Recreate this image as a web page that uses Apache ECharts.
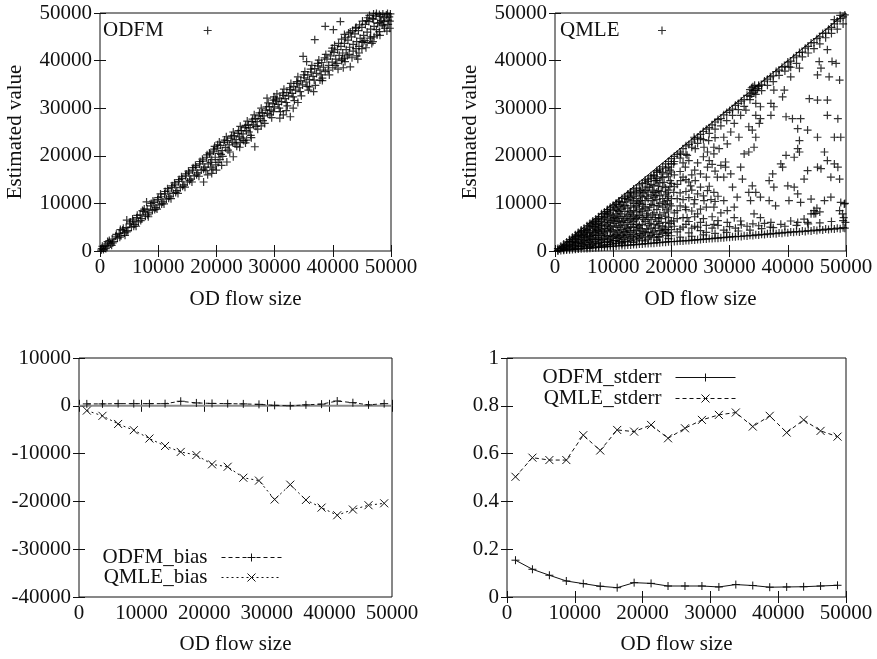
<!DOCTYPE html>
<html><head><meta charset="utf-8">
<script src="https://cdn.jsdelivr.net/npm/echarts@6/dist/echarts.min.js"></script>
<style>html,body{margin:0;padding:0;background:#fff}#c{width:877px;height:659px}</style>
</head><body><div id="c"></div><script>
// ---- Data ----
const odfmScatter = [[200,200],[300,500],[600,300],[700,900],[900,1200],[1200,800],[1500,1700],[1800,1500],[2100,2500],[2400,2000],[2700,3100],[3000,2700],[3300,3700],[3600,3200],[3900,4400],[4200,3800],[4500,4900],[4600,6500],[4800,4300],[5100,5700],[5400,5000],[5700,6300],[6000,5600],[6300,7000],[6600,6100],[6900,7600],[7200,6800],[7500,8300],[7800,7300],[8000,10300],[8100,8800],[8400,8000],[8700,9500],[9000,8500],[9300,10200],[9600,9100],[9900,10800],[10200,9700],[10500,11400],[10800,10300],[11100,12000],[11400,10900],[11700,12600],[12000,11500],[12300,13300],[12600,12100],[12900,13900],[13200,12700],[13500,14600],[13800,13300],[14100,15200],[14400,13900],[14700,15800],[15000,14500],[15300,16400],[15600,15100],[15900,17000],[16200,15800],[16500,17600],[16800,16400],[17100,18300],[17400,17000],[17700,18900],[17800,14500],[18000,17600],[18300,19700],[18600,18300],[18900,20400],[19200,16300],[19200,19200],[19500,21000],[19800,19700],[20000,17000],[20100,21600],[20400,20500],[20700,22200],[20900,18000],[21000,21100],[21300,22800],[21600,21700],[21800,18700],[21900,23200],[22200,22300],[22500,23700],[22900,19800],[22800,22800],[23100,24200],[23400,23400],[23700,24700],[24000,24000],[24300,25300],[24600,24600],[24900,25900],[25200,23300],[25200,25300],[25500,26500],[25800,25900],[26100,27200],[26400,26500],[26600,21900],[26700,27800],[27000,27200],[27300,28400],[27600,27800],[27900,29000],[28200,28400],[28500,29600],[28700,32100],[28800,28900],[29100,30300],[29400,29600],[29700,30900],[29800,31700],[30000,30300],[30300,31500],[30600,30800],[30900,27900],[30900,32100],[31200,31400],[31500,32700],[31800,32000],[32100,33300],[32400,32600],[32700,28200],[32700,33900],[33000,33100],[33200,30000],[33300,34600],[33600,33800],[33900,35200],[34200,34300],[34500,35800],[34800,34900],[34900,40900],[35100,36400],[35400,35500],[35500,39800],[35700,37000],[36000,36000],[36300,37600],[36600,36700],[36900,44400],[36900,38300],[37200,37300],[37500,38900],[37800,35900],[37800,38000],[38100,39600],[38400,38600],[38700,37700],[38700,47200],[39000,40300],[39300,39000],[39600,41000],[39900,39700],[40000,38500],[40100,46500],[40200,41700],[40500,40300],[40700,39400],[40800,42300],[41100,41100],[41300,48200],[41400,43000],[41500,40000],[41700,41600],[42000,43600],[42000,45500],[42300,42300],[42500,41000],[42600,44300],[42900,42800],[43000,38700],[43000,46000],[43200,45000],[43500,43400],[43500,42000],[43800,45600],[44000,47000],[44100,44000],[44100,41000],[44400,46300],[44500,43000],[44700,44700],[45000,47000],[45000,42500],[45300,45300],[45500,44200],[45600,47600],[45900,46000],[45900,43800],[46000,49000],[46200,48200],[46500,46600],[46500,45000],[46800,48800],[47000,49800],[47100,47200],[47100,45000],[47400,49400],[47500,46500],[47700,47800],[48000,49700],[48000,46100],[48300,48400],[48500,47500],[48600,49800],[48900,49000],[48900,46800],[49200,49600],[49500,47600],[49500,48500],[49700,49200],[49800,48300],
[400,1000],[1000,500],[1600,2200],[2200,1700],[2800,3500],[3400,2900],[4000,4800],[4600,4000],[5200,6100],[5800,5200],[6400,7500],[7000,6400],[7600,8800],[8200,7600],[8800,10000],[9400,8700],[10000,11200],
[10600,9900],[11200,12500],[11800,11100],[12400,13700],[13000,12300],[13600,15000],[14200,13600],[14800,16200],[15400,14800],[16000,17500],[16600,16000],[17200,18800],[17800,17200],[18400,20200],[19000,18600],[19600,21400],[19400,17200],[20600,19200],[20200,22300],
[20800,20300],[21400,23300],[22000,21200],[22600,24200],[23200,22500],[23800,25300],[24400,23700],[25000,26400],[25600,25000],[26200,27700],[26800,26200],[27400,29000],[28000,27400],[28600,30300],[29200,28600],[29800,29300],[30200,31900],[27700,26300],[24100,22800],
[30800,30000],[31400,33200],[32000,31200],[32600,34300],[33200,32400],[33800,35600],[34400,33500],[35000,37000],[35600,34600],[36200,38200],[36800,35900],[37400,39400],[38000,37000],[38600,40600],[39200,38000],[39800,42000],[32000,29500],[36000,34500],[38200,36300],
[40400,39000],[41000,43600],[41600,40300],[42200,44800],[42800,41300],[43400,46300],[44000,42500],[44600,47500],[45200,43800],[45800,48400],[46400,44700],[47000,48700],[47600,45400],[48200,49300],[48800,47300],[49400,49900],[49800,46800],[41800,38500],[44300,40300],[46700,43600],
[1300,2000],[2000,1200],[3500,4500],[4300,3300],[5600,6700],[6200,5200],[7300,8500],[8300,7200],[9100,10500],[9800,8800],
[10400,12000],[11000,9900],[11600,13100],[12200,11000],[12800,14300],[13400,12100],[14000,15600],[14600,13400],[15200,16800],[15800,14500],[16400,18000],[17000,15700],[17600,19300],[18200,16900],[18800,20600],[19100,17600],[19700,22000],[18500,16000],[20300,18600],[19900,18100],
[20500,22900],[21100,19900],[21700,24000],[22300,20800],[22900,25000],[23500,22000],[24100,26200],[24700,23200],[25300,27300],[25900,24300],[26500,28600],[27100,25600],[27700,30000],[28300,26800],[28900,31100],[29500,28000],[29900,32400],[25000,22700],[26000,23800],[24000,21800],
[30400,33000],[31000,29300],[31600,34000],[32200,30500],[32800,35200],[33400,31600],[34000,36600],[34600,32600],[35200,37700],[35800,33800],[36400,39000],[37000,34800],[37600,40100],[38200,35800],[38800,41300],[39400,37000],[39900,42600],[31500,28600],[34000,31200],[36700,33500],
[40300,43200],[40900,38200],[41500,44500],[42100,39800],[42700,45800],[43300,40600],[43900,46800],[44500,41600],[45100,48300],[45700,42700],[46300,49500],[46900,44000],[47500,49900],[48100,45300],[48700,48200],[49300,46200],[49900,49800],[42000,40500],[45000,44000],[48000,48000]];

const qmleScatter = [
[1000,1000],[2000,1900],[3000,2900],[4000,3900],[5000,4800],[6000,5800],[7000,6700],[8000,7800],[9000,8700],[10000,9600],[11000,10500],[12000,11400],[13000,12300],[14000,13200],[15000,14200],[16000,15100],[17000,16000],[18000,17200],[19000,18300],[20000,19400],[21000,20300],[22000,21500],[23000,22400],[24000,23500],[25000,24500],[26000,25600],[27000,26500],[28000,27600],[29000,28600],[30000,29500],[31000,30600],[32000,31500],[33000,32700],[34000,33700],[35000,34600],[36000,35700],[37000,36600],[38000,37700],[39000,38600],[40000,39700],[41000,40600],[42000,41700],[43000,42600],[44000,43700],[45000,44600],[46000,45700],[47000,46600],[48000,47700],[49000,48800],[49800,49600],
[20500,18800],[21500,19500],[22500,20300],[23500,21800],[24500,22600],[25500,23400],[26500,24700],[27500,25600],[28500,26300],[29500,27400],[30500,28500],[31500,29700],[32500,30400],[33500,31800],[34500,32900],[33800,34300],[34300,34800],[34800,34100],[33500,33900],[34000,34500],[35000,34800],[34200,33200],[33800,33000],[35500,33700],[36500,34800],[37500,35600],[38500,36900],[39500,37800],[40500,38600],[41500,39400],[42500,40800],[43500,41600],[44500,42500],[45500,43500],[46500,44800],[47500,45700],[48500,46600],[49500,47700],[49000,49500],[48000,48600],
[22500,22100],[25500,25100],[27500,27100],[29500,29100],[31500,31000],[36500,36100],[38500,38000],[41500,41000],[43500,43000],[45500,45000],[47500,47000],[48500,48300],[49500,49200],
[1500,1450],[2500,2400],[3500,3400],[4500,4400],[5500,5300],[6500,6300],[7500,7200],[8500,8200],[9500,9200],[10500,10100],[11500,11100],[12500,12000],[13500,13000],[14500,13900],[15500,14900],[16500,15800],[17500,16900],[18500,17700],[19500,18800],[20500,19900],[21500,20800],[23500,22900],[24500,23900],[26500,25900],[28500,27800],[30500,29800],[32500,31800],[33500,32500],[34500,33800],[35500,34900],[37500,36800],[39500,38800],[40500,39900],[42500,41800],[44500,43800],[46500,45800],
[1000,100],[2000,200],[3000,300],[4000,400],[5000,500],[6000,600],[7000,700],[8000,800],[9000,900],[10000,1000],[11000,1100],[12000,1150],[13000,1250],[14000,1350],[15000,1450],[16000,1550],[17000,1650],[18000,1750],[19000,1850],[20000,1950],[21000,2050],[22000,2100],[23000,2200],[24000,2300],[25000,2400],[26000,2500],[27000,2600],[28000,2700],[29000,2800],[30000,2900],[31000,3000],[32000,3050],[33000,3150],[34000,3250],[35000,3350],[36000,3450],[37000,3550],[38000,3650],[39000,3750],[40000,3850],[41000,3950],[42000,4000],[43000,4100],[44000,4200],[45000,4300],[46000,4400],[47000,4500],[48000,4600],[49000,4700],[49800,4800],
[500,50],[1500,150],[2500,250],[3500,350],[4500,450],[5500,550],[6500,650],[7500,750],[8500,850],[9500,950],[10500,1050],[11500,1150],[12500,1250],[13500,1350],[14500,1450],[15500,1550],[16500,1650],[17500,1750],[18500,1850],[19500,1950],[20500,2000],[21500,2100],[22500,2200],[23500,2300],[24500,2400],[25500,2500],[26500,2600],[27500,2700],[28500,2800],[29500,2900],[30500,3000],[31500,3100],[32500,3200],[33500,3300],[34500,3400],[35500,3500],[36500,3600],[37500,3700],[38500,3800],[39500,3900],[40500,4000],[41500,4100],[42500,4200],[43500,4300],[44500,4400],[45500,4500],[46500,4600],[47500,4700],[48500,4800],[49500,4900],
[1500,300],[3500,500],[5500,800],[7500,1000],[9500,1300],[11500,1500],[13500,1800],[15500,2100],[17500,2300],[19500,2600],[21500,2900],[23500,3100],[25500,3400],[27500,3700],[29500,3900],[31500,4200],[33500,4400],[35500,4700],[37500,4900],[39500,5200],[41500,5400],[43500,5700],[45500,5900],[47500,6200],[49500,6400],
[500,100],[500,500],[800,400],[1200,600],[1500,1000],[2000,400],[2000,800],[2500,900],[2500,1500],[3000,1300],[3000,2000],[3500,1200],[3500,2600],[4000,1000],[4000,2500],[4500,3300],[4500,1600],[5000,2200],[5000,3500],[5500,3800],[5500,4500],[6000,1800],[6000,3000],[6000,4200],[6500,5200],[6500,2500],[7000,4000],[7000,1500],[7000,5600],[7500,5800],[7500,3200],[8000,2300],[8000,6200],[8000,4600],[8500,3800],[8500,7000],[8500,1800],[9000,2000],[9000,5500],[9000,7800],[9500,7600],[9500,4200],[10000,3000],[10000,6500],[10000,8500],[10500,2200],[10500,5000],[10500,9800],[11000,9300],[11000,7200],[11000,3800],[11500,6000],[11500,10200],[12000,2900],[12000,8300],[12500,4700],[12500,10800],[13000,6800],[13000,9500],[13500,3500],[13500,11500],[14000,5600],[14000,8200],[14500,12300],[14500,10000],[15000,4200],[15000,7000],[15500,12700],[15500,9000],[16000,5300],[16000,11000],[16500,14000],[16500,3300],[17000,8000],[17000,12300],[17500,6200],[17500,15200],[18000,10000],[18000,4300],[18500,13500],[18500,16500],[19000,7300],[19000,11800],[19500,5000],[19500,17600],[20000,9500],[20000,14200],
[1500,600],[2000,1200],[2500,2000],[2500,500],[3000,700],[3000,2500],[3500,1800],[3500,3000],[4000,1700],[4000,3300],[4000,600],[4500,900],[4500,2400],[4500,4100],[5000,1300],[5000,2800],[5000,4300],[5500,1400],[5500,2700],[5500,3200],[6000,900],[6000,2400],[6000,3600],[6000,5200],[6500,1500],[6500,3400],[6500,4400],[6500,6000],[7000,1000],[7000,2500],[7000,3300],[7000,4800],[7000,6200],[7500,1600],[7500,2400],[7500,4300],[7500,5000],[7500,6800],[8000,1300],[8000,3400],[8000,5400],[8000,7200],[8500,1200],[8500,2700],[8500,4700],[8500,5900],[8500,7800],[9000,1400],[9000,3000],[9000,4300],[9000,6500],[9000,8300],[9500,1800],[9500,3200],[9500,5200],[9500,6300],[9500,8800],[10000,1500],[10000,2200],[10000,4000],[10000,5300],[10000,7400],[10500,1600],[10500,3500],[10500,6300],[10500,7800],[10500,8800],[11000,2000],[11000,2800],[11000,5000],[11000,6200],[11000,8300],[11000,10400],[11500,1800],[11500,3300],[11500,4500],[11500,7300],[11500,8800],[12000,2000],[12000,4000],[12000,5500],[12000,6800],[12000,9600],[12000,11000],[12500,1900],[12500,3200],[12500,6000],[12500,7600],[12500,9000],[13000,2200],[13000,3900],[13000,5000],[13000,8000],[13000,11200],[13000,12400],[13500,2500],[13500,5000],[13500,6200],[13500,7200],[13500,10000],[14000,2100],[14000,3200],[14000,4400],[14000,6800],[14000,9500],[14000,11000],[14000,12600],[14500,2600],[14500,3700],[14500,5400],[14500,7500],[14500,8800],[15000,2300],[15000,5600],[15000,8400],[15000,9800],[15000,11300],[15000,13000],[15500,2900],[15500,4000],[15500,6200],[15500,10600],[15500,14300],[16000,2500],[16000,3900],[16000,7000],[16000,8600],[16000,12400],[16000,14600],[16500,4800],[16500,6600],[16500,9800],[16500,11800],[16500,15300],[17000,2800],[17000,4200],[17000,5600],[17000,9600],[17000,13800],[17000,15800],[17500,3500],[17500,8700],[17500,10800],[17500,12400],[17500,16500],[18000,2900],[18000,5800],[18000,7600],[18000,11600],[18000,14300],[18000,16800],[18500,3800],[18500,5200],[18500,9200],[18500,11000],[18500,15400],[19000,3300],[19000,4500],[19000,6000],[19000,9800],[19000,13300],[19000,17400],[19500,3900],[19500,7000],[19500,8400],[19500,11400],[19500,12800],[19500,15600],[20000,3200],[20000,4500],[20000,6300],[20000,11000],[20000,16600],[20000,18300],
[1250,700],[1750,1100],[2250,1300],[2750,1800],[3250,1000],[3250,2300],[3750,1500],[3750,2900],[4250,2000],[4250,3600],[4750,1100],[4750,3000],[5250,1800],[5250,3900],[5750,2200],[5750,4800],[6250,1200],[6250,3200],[6250,5500],[6750,2000],[6750,3900],[6750,5100],[7250,2800],[7250,4500],[7250,6500],[7750,1800],[7750,3700],[7750,5500],[8250,2500],[8250,4100],[8250,6700],[8750,3300],[8750,5200],[8750,7300],[9250,2400],[9250,4800],[9250,6000],[9250,8000],[9750,2700],[9750,4500],[9750,6900],[10250,3300],[10250,5800],[10250,7000],[10250,9200],[10750,2600],[10750,4300],[10750,6800],[10750,8500],[11250,3100],[11250,5400],[11250,7800],[11250,9700],[11750,2400],[11750,4000],[11750,6400],[11750,9300],[12250,3500],[12250,5000],[12250,7200],[12250,10300],[12750,2700],[12750,4300],[12750,6500],[12750,8400],[12750,11600],[13250,3000],[13250,5600],[13250,7600],[13250,10600],[13750,4200],[13750,6700],[13750,9200],[13750,12000],[14250,2900],[14250,5000],[14250,7100],[14250,10300],[14750,3300],[14750,4700],[14750,8200],[14750,11600],[15250,3600],[15250,6600],[15250,9400],[15250,12200],[15750,4600],[15750,7400],[15750,11500],[16250,3100],[16250,5800],[16250,9200],[16250,13400],[16750,3800],[16750,7600],[16750,10600],[16750,12800],[17250,4800],[17250,7000],[17250,11700],[17250,14800],[17750,3000],[17750,5300],[17750,9500],[17750,13600],[18250,4200],[18250,6800],[18250,12500],[18250,15600],[18750,4600],[18750,8000],[18750,10300],[18750,14400],[19250,3700],[19250,8800],[19250,12200],[19250,16200],[19750,5800],[19750,9900],[19750,13600],[19750,17000],
[20500,5200],[20500,8000],[20500,13500],[20500,16000],[21000,6800],[21000,14000],[21500,4600],[21500,9500],[21500,12200],[22000,7000],[22000,10800],[22000,18500],[22500,5600],[22500,8700],[22500,15000],[23000,6200],[23000,11200],[23000,14500],[23500,4800],[23500,8400],[23500,12800],[24000,7200],[24000,10800],[24000,17000],[24500,5000],[24500,12000],[25000,8800],[25000,16200],[25500,6800],[25500,11600],[26000,5400],[26000,9200],[26500,13600],[26500,19000],[27000,7200],[27500,10400],[27500,16800],[28000,6400],
[21000,4000],[22000,5000],[23000,3800],[24000,5200],[25000,4300],[26000,3900],[27000,4800],[28000,5400],[29000,4400],[30000,5100],[31000,4800],[32000,5500],[33000,5200],[34000,5700],[35000,5300],[36000,5800],[37000,5000],[21000,11000],[22500,12500],[23500,16000],[24500,18500],[26000,15500],[27000,18200],[28000,11500],[22000,15500],[21500,16700],[23000,19000],[25500,19800],[27500,23800],[26800,10800],[24500,7800],[28500,8000],
[48300,39400],[45400,39800],[45700,38400],[46800,42300],[48900,35900],[47100,36600],[40200,38700],[42000,38400],[45100,37000],[40500,36600],[37600,33800],[39100,32400],[39400,33800],[37100,28500],[39700,28200],[40800,27800],[42200,27800],[43700,32000],[45100,31700],[46800,31700],[48600,27800],[46800,28500],[41700,25700],[43400,25400],[45100,23900],[48000,23900],[49100,23900],[42000,23200],[41700,21500],[42000,20800],[46300,20800],[46800,19000],[48000,18300],[48600,17600],[47400,15500],[48900,15100],[45700,17300],[45100,17600],[43400,16900],[42800,15100],[41100,19700],[39700,20100],[38800,18300],[39100,17600],[37400,16200],[36800,14800],[37600,13400],[40000,13700],[41100,13400],[41700,12000],[40200,10600],[42200,10200],[44000,10900],[46300,10600],[47400,11300],[49100,10200],[49700,9900],[48900,8500],[49400,7800],[44500,7800],[44000,7800],[42800,6700],[37100,6000],[35300,7000],[34200,7800],[33600,10600],[35300,11300],[36800,10600],[37900,9500],[34500,12300],[33300,12300],[31300,11300],[30800,9200],[29600,8500],[29000,10600],[30500,13400],[32200,15100],[33900,13700],[30200,16200],[29300,17600],[28500,18000],[29000,15500],[27900,15500],[26200,17600],[29300,18700],[31900,17600],[32500,20400],[33300,20800],[34200,21800],[34500,23900],[33900,25400],[33300,26100],[35100,26800],[35300,27800],[34500,28500],[35300,30300],[34500,31000],[37100,31000],[37600,30300],[32800,29600],[31900,28500],[30800,26800],[30200,25000],[31600,23900],[29600,22500],[29000,23900],[28200,21500],[27300,21800],[26400,23200],[25000,23600],[25600,21800],[24100,21500],[26200,20800],[27300,20400],[23900,23900],[22700,20100],[21600,20400],[20400,18300],[22400,17600],[24100,14800],[23300,13700],[25000,13400],[26200,12700],[27300,12300],[25600,10600],[27300,9200],[23900,9900],[22400,9200],[21000,8500],[19300,10600],[17800,12700],[20400,12300],[21600,14800],[19800,14800],[17500,14800],[14700,12700],[15800,13400],[17000,11300],[14700,10600],[13500,8500],[15800,7800],[17800,7000],[20400,6300],[22700,7000],[25000,6000],[27300,5600],[29600,6000],[31900,6300],[30800,7000],[38800,5600],[40500,6300],[41700,6000],[43400,6000],[44500,8500],[45000,9000],[44800,7900],[45500,8200],[47600,39800],[49600,7000],[49900,6000],[49800,10000]];

const qmleDiagonal = [[0,0],[50000,50000]];
const zeroLine = [[0,0],[50000,0]];

const flowSize   = [1250,3750,6250,8750,11250,13750,16250,18750,21250,23750,26250,28750,31250,33750,36250,38750,41250,43750,46250,48750];
const odfmBias   = [400,400,450,450,450,450,950,600,500,450,400,300,100,0,200,350,1000,650,200,450];
const qmleBias   = [-1000,-2100,-3800,-5100,-6850,-8400,-9650,-10300,-12250,-12750,-15050,-15650,-19600,-16500,-19700,-21300,-22900,-21700,-20800,-20400];
const odfmStderr = [0.154,0.116,0.091,0.067,0.056,0.045,0.039,0.060,0.057,0.046,0.046,0.046,0.042,0.052,0.048,0.041,0.042,0.043,0.046,0.049];
const qmleStderr = [0.503,0.583,0.573,0.573,0.677,0.613,0.699,0.692,0.720,0.664,0.706,0.741,0.762,0.772,0.713,0.758,0.688,0.741,0.695,0.671];

const xRange = {min:0, max:50000, interval:10000};
const yRangeTop = {min:0, max:50000, interval:10000};
const yRangeBias = {min:-40000, max:10000, interval:10000};
const yRangeErr = {min:0, max:1, interval:0.2};

// ---- Style ----
const INK = '#111';
const FONT = {fontFamily:'Liberation Serif', fontSize:21, color:INK};
const PLUS = 'path://M0,5L10,5M5,0L5,10';
const CROSS = 'path://M0,0L10,10M0,10L10,0';
const tick = {inside:true, length:6, lineStyle:{color:INK, width:1}};
const plain = v => String(+(+v).toFixed(6));

function xPair(g, gap) {
  return [
    Object.assign({gridIndex:g, type:'value', position:'bottom', axisLine:{show:false}, axisTick:tick,
      axisLabel:Object.assign({margin:6, formatter:plain}, FONT), splitLine:{show:false},
      name:'OD flow size', nameLocation:'middle', nameGap:gap, nameTextStyle:Object.assign({}, FONT)}, xRange),
    Object.assign({gridIndex:g, type:'value', position:'top', axisLine:{show:false}, axisTick:tick,
      axisLabel:{show:false}, splitLine:{show:false}}, xRange)
  ];
}
function yPair(g, range, name) {
  const main = Object.assign({gridIndex:g, type:'value', position:'left', axisLine:{show:false}, axisTick:tick,
      axisLabel:Object.assign({margin:8, formatter:plain}, FONT), splitLine:{show:false}}, range);
  if (name) Object.assign(main, {name:name, nameLocation:'middle', nameGap:74, nameTextStyle:Object.assign({}, FONT)});
  return [main,
    Object.assign({gridIndex:g, type:'value', position:'right', axisLine:{show:false}, axisTick:tick,
      axisLabel:{show:false}, splitLine:{show:false}}, range)];
}
const frame = {show:true, borderColor:INK, borderWidth:1, backgroundColor:'transparent', outerBoundsMode:'none', containLabel:false};
const markStyle = {color:INK, borderColor:INK, borderWidth:1};
const scatterStyle = {color:'#000', borderColor:'#000', borderWidth:1.2};

function legendAt(name, pos, itemWidth, itemHeight, pad, bw) {
  return Object.assign({data:[name], orient:'horizontal', align:'right', itemWidth:itemWidth, itemHeight:itemHeight,
    padding:0, selectedMode:false, textStyle:Object.assign({padding:pad}, FONT),
    lineStyle:{width:1}, itemStyle:{borderWidth:bw}}, pos);
}

const option = {
  animation:false,
  backgroundColor:'#fff',
  grid:[
    Object.assign({left:100, top:13, width:291, height:238}, frame),
    Object.assign({left:555, top:13, width:291, height:238}, frame),
    Object.assign({left:79, top:358, width:313, height:239}, frame),
    Object.assign({left:507, top:358, width:339, height:239}, frame)
  ],
  xAxis:[].concat(xPair(0,38), xPair(1,38), xPair(2,37), xPair(3,37)),
  yAxis:[].concat(yPair(0,yRangeTop,'Estimated value'), yPair(1,yRangeTop,'Estimated value'), yPair(2,yRangeBias), yPair(3,yRangeErr)),
  legend:[
    legendAt('ODFM', {left:103, top:20}, 78, 8, [0,0,0,0], 1.2),
    legendAt('QMLE', {left:560, top:20}, 75, 8, [0,0,0,0], 1.2),
    legendAt('ODFM_bias', {right:595, top:547}, 60, 10, [0,9,0,0], 1),
    legendAt('QMLE_bias', {right:595, top:567}, 60, 10, [0,9,0,0], 1),
    legendAt('ODFM_stderr', {right:141, top:367}, 60, 10, [0,9,0,0], 1),
    legendAt('QMLE_stderr', {right:141, top:388}, 60, 10, [0,9,0,0], 1)
  ],
  series:[
    {name:'ODFM', type:'scatter', xAxisIndex:0, yAxisIndex:0, data:odfmScatter, symbol:PLUS, symbolSize:8,
      itemStyle:scatterStyle, emphasis:{disabled:true}},
    {name:'diag', type:'line', xAxisIndex:2, yAxisIndex:2, data:qmleDiagonal, symbol:'none',
      lineStyle:{color:INK, width:1}, silent:true, z:1},
    {name:'QMLE', type:'scatter', xAxisIndex:2, yAxisIndex:2, data:qmleScatter, symbol:PLUS, symbolSize:8,
      itemStyle:scatterStyle, emphasis:{disabled:true}},
    {name:'zero', type:'line', xAxisIndex:4, yAxisIndex:4, data:zeroLine, symbol:'none',
      lineStyle:{color:'#8a8a8a', width:2}, silent:true, z:1},
    {name:'ODFM_bias', type:'line', xAxisIndex:4, yAxisIndex:4, data:flowSize.map((x,i)=>[x,odfmBias[i]]),
      symbol:PLUS, symbolSize:8, showSymbol:true, showAllSymbol:true, itemStyle:markStyle,
      lineStyle:{color:INK, width:1, type:[4,3]}},
    {name:'QMLE_bias', type:'line', xAxisIndex:4, yAxisIndex:4, data:flowSize.map((x,i)=>[x,qmleBias[i]]),
      symbol:CROSS, symbolSize:8, showSymbol:true, showAllSymbol:true, itemStyle:markStyle,
      lineStyle:{color:INK, width:1, type:[2,3]}},
    {name:'ODFM_stderr', type:'line', xAxisIndex:6, yAxisIndex:6, data:flowSize.map((x,i)=>[x,odfmStderr[i]]),
      symbol:PLUS, symbolSize:8, showSymbol:true, showAllSymbol:true, itemStyle:markStyle,
      lineStyle:{color:INK, width:1, type:'solid'}},
    {name:'QMLE_stderr', type:'line', xAxisIndex:6, yAxisIndex:6, data:flowSize.map((x,i)=>[x,qmleStderr[i]]),
      symbol:CROSS, symbolSize:8, showSymbol:true, showAllSymbol:true, itemStyle:markStyle,
      lineStyle:{color:INK, width:1, type:[4,3]}}
  ]
};
const chart = echarts.init(document.getElementById('c'), null, {renderer:'canvas'});
chart.setOption(option);
</script></body></html>
